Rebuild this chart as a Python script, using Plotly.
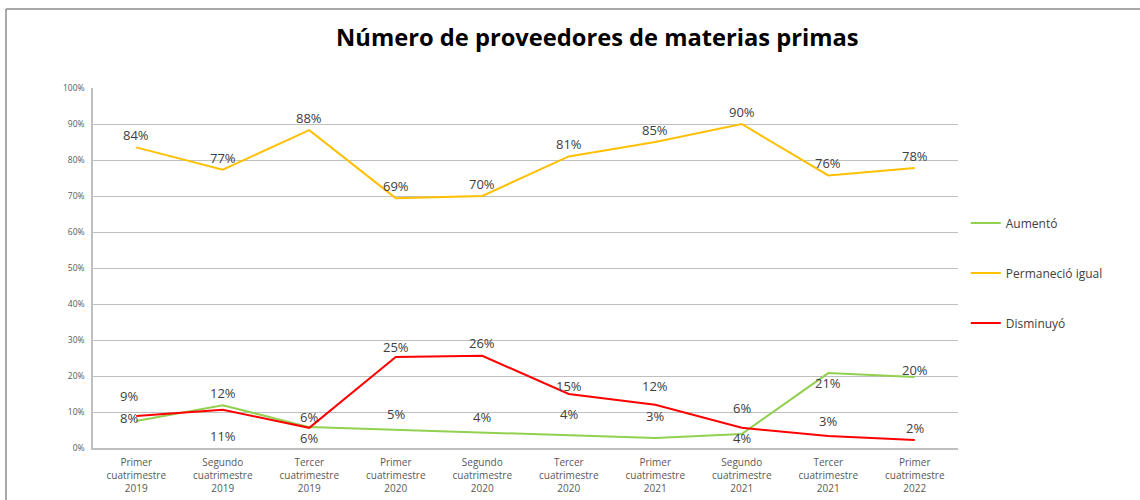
import plotly.graph_objects as go

categories = [
    "Primer<br>cuatrimestre<br>2019", "Segundo<br>cuatrimestre<br>2019", "Tercer<br>cuatrimestre<br>2019",
    "Primer<br>cuatrimestre<br>2020", "Segundo<br>cuatrimestre<br>2020", "Tercer<br>cuatrimestre<br>2020",
    "Primer<br>cuatrimestre<br>2021", "Segundo<br>cuatrimestre<br>2021", "Tercer<br>cuatrimestre<br>2021",
    "Primer<br>cuatrimestre<br>2022",
]
aumento = [0.075, 0.119, 0.058, 0.050, 0.042, 0.036, 0.028, 0.039, 0.208, 0.197]
permanecio = [0.835, 0.773, 0.883, 0.694, 0.700, 0.810, 0.850, 0.900, 0.757, 0.778]
disminuyo = [0.089, 0.106, 0.056, 0.253, 0.256, 0.150, 0.120, 0.056, 0.033, 0.022]

# label offsets (pixels) for data labels, style only
aum_yshift = [3, 12, 10, 16, 16, 21, 22, -4, -10, 7]
per_yshift = [12] * 10
dis_yshift = [20, -26, -10, 10, 13, 8, 19, 20, 15, 12]
aum_xshift = [-7, 0, 0, 0, 0, 0, 0, 0, 0, 0]
per_xshift = [0] * 10
dis_xshift = [-7, 0, 0, 0, 0, 0, 0, 0, 0, 0]

font_fam = "Open Sans, Noto Sans, sans-serif"
label_font = dict(family=font_fam, size=13, color="#404040")

fig = go.Figure()
annotations = []
for name, vals, color, ys, xs in [
    ("Aumentó", aumento, "#92D050", aum_yshift, aum_xshift),
    ("Permaneció igual", permanecio, "#FFC000", per_yshift, per_xshift),
    ("Disminuyó", disminuyo, "#FF0000", dis_yshift, dis_xshift),
]:
    fig.add_trace(go.Scatter(
        x=categories, y=vals, name=name, mode="lines",
        line=dict(color=color, width=2),
        legendgroup=name, hoverinfo="x+y+name",
    ))
    for c, v, dy, dx in zip(categories, vals, ys, xs):
        annotations.append(dict(
            x=c, y=v, xref="x", yref="y", text=f"{round(v*100):.0f}%",
            showarrow=False, yshift=dy, xshift=dx, font=label_font,
        ))

fig.update_layout(
    width=1140, height=500,
    margin=dict(l=93, r=182, t=88, b=52),
    paper_bgcolor="white", plot_bgcolor="white",
    title=dict(text="<b>Número de proveedores de materias primas</b>",
               x=0.524, xanchor="center", y=0.924, yanchor="middle",
               font=dict(family=font_fam, size=23.7, color="#000000")),
    showlegend=True,
    legend=dict(x=1.009, xanchor="left", y=0.665, yanchor="top",
                font=dict(family=font_fam, size=12, color="#404040"),
                tracegroupgap=31, itemwidth=30, bgcolor="rgba(0,0,0,0)"),
    xaxis=dict(range=[-0.5, len(categories) - 0.5], showgrid=False, showline=True,
               linecolor="#BFBFBF", linewidth=1.5,
               tickfont=dict(family=font_fam, size=10, color="#595959"),
               ticks="", automargin=False, ticklabelstandoff=4),
    yaxis=dict(range=[0, 1], dtick=0.1, tickformat=".0%", showgrid=True,
               gridcolor="#BFBFBF", gridwidth=1, showline=True, linecolor="#BFBFBF",
               linewidth=1.5, zeroline=False, automargin=False, ticklabelstandoff=5,
               tickfont=dict(family=font_fam, size=8.5, color="#595959"), ticks=""),
    annotations=annotations,
    shapes=[
        dict(type="line", xref="paper", yref="paper", x0=-0.1006, x1=1.215,
             y0=1.2194, y1=1.2194, line=dict(color="#8C8C8C", width=1.5)),
        dict(type="line", xref="paper", yref="paper", x0=-0.1006, x1=-0.1006,
             y0=1.2194, y1=-0.15, line=dict(color="#8C8C8C", width=1.5)),
    ],
)

fig.write_html("out.html", config={"displayModeBar": False},
               post_script="document.body.style.margin='0';")
